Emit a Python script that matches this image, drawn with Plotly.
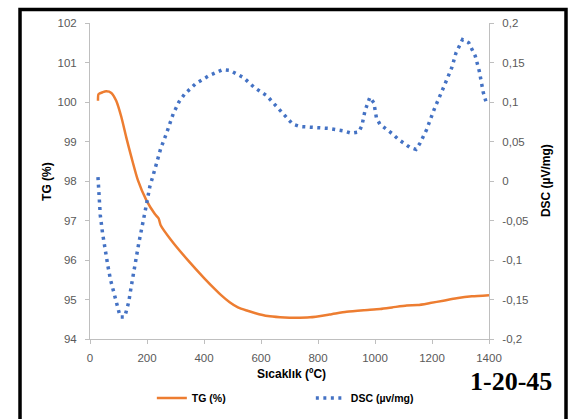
import plotly.graph_objects as go

# Thermogravimetric (TG) curve: temperature (°C) vs. mass (%)
tg_temp = [28, 30, 45, 57, 75, 92, 110, 127, 145, 168, 198, 227, 241, 248, 285,
           344, 402, 440, 460, 490, 519, 550, 578, 624, 667, 700, 772, 840, 900,
           960, 1018, 1060, 1111, 1150, 1193, 1240, 1286, 1340, 1400]
tg_mass = [100.03, 100.20, 100.25, 100.27, 100.23, 100.03, 99.62, 99.11, 98.61,
           98.02, 97.51, 97.17, 97.05, 96.88, 96.50, 95.99, 95.53, 95.25, 95.11,
           94.93, 94.80, 94.72, 94.66, 94.58, 94.55, 94.54, 94.55, 94.62, 94.69,
           94.73, 94.76, 94.80, 94.85, 94.86, 94.91, 94.97, 95.03, 95.08, 95.11]

# Differential scanning calorimetry (DSC) curve: temperature (°C) vs. µV/mg
dsc_temp = [28, 32, 36, 44, 54, 63, 72, 82, 91, 100, 106, 122, 130, 136, 144,
            152, 171, 192, 210, 227, 248, 268, 292, 312, 332, 370, 416, 465,
            491, 538, 578, 620, 655, 674, 692, 711, 737, 788, 840, 891, 917,
            943, 954, 965, 982, 996, 1005, 1017, 1039, 1060, 1081, 1102, 1123,
            1144, 1158, 1181, 1209, 1240, 1270, 1284, 1307, 1329, 1352, 1366,
            1380, 1389]
dsc_signal = [0.005, -0.020, -0.043, -0.066, -0.090, -0.108, -0.125, -0.140,
              -0.154, -0.166, -0.172, -0.172, -0.162, -0.153, -0.135, -0.117,
              -0.079, -0.041, -0.007, 0.014, 0.041, 0.060, 0.085, 0.100, 0.110,
              0.123, 0.133, 0.141, 0.140, 0.131, 0.118, 0.108, 0.094, 0.086,
              0.078, 0.072, 0.069, 0.068, 0.0665, 0.0634, 0.0605, 0.062, 0.070,
              0.089, 0.106, 0.099, 0.080, 0.072, 0.066, 0.060, 0.053, 0.048,
              0.0424, 0.040, 0.048, 0.065, 0.092, 0.118, 0.144, 0.162, 0.179,
              0.175, 0.158, 0.139, 0.112, 0.101]

# Axis ticks
x_ticks = [0, 200, 400, 600, 800, 1000, 1200, 1400]
tg_ticks = [94, 95, 96, 97, 98, 99, 100, 101, 102]
dsc_ticks = [-0.2, -0.15, -0.1, -0.05, 0, 0.05, 0.1, 0.15, 0.2]
dsc_tick_labels = ["-0,2", "-0,15", "-0,1", "-0,05", "0", "0,05", "0,1", "0,15", "0,2"]

ORANGE = "#ED7D31"
BLUE = "#4472C4"
AXIS_GREY = "#BFBFBF"
LABEL_GREY = "#595959"
TICK_FONT = dict(family="Liberation Sans", size=11.5, color=LABEL_GREY)
TITLE_FONT = dict(family="Liberation Sans", size=12, color="black", weight="bold")

fig = go.Figure()
fig.add_trace(go.Scatter(
    x=tg_temp, y=tg_mass, mode="lines", name="TG (%)",
    line=dict(color=ORANGE, width=2.5, shape="spline", smoothing=0.6),
    yaxis="y",
))
fig.add_trace(go.Scatter(
    x=dsc_temp, y=dsc_signal, mode="lines", name="DSC (µv/mg)",
    line=dict(color=BLUE, width=3.5, dash="3px,4.5px"), yaxis="y2",
))

common_axis = dict(
    showgrid=False, zeroline=False, showline=True, linecolor=AXIS_GREY,
    linewidth=1, ticks="outside", ticklen=4, tickcolor=AXIS_GREY,
    tickfont=TICK_FONT,
)

fig.update_layout(
    width=574, height=419,
    margin=dict(l=90, r=85, t=23, b=80, autoexpand=False),
    paper_bgcolor="white", plot_bgcolor="white",
    xaxis=dict(range=[0, 1400], tickvals=x_ticks, ticklabelstandoff=4,
               **common_axis),
    yaxis=dict(range=[94, 102], tickvals=tg_ticks, ticklabelstandoff=6,
               **common_axis),
    yaxis2=dict(range=[-0.2, 0.2], tickvals=dsc_ticks, ticktext=dsc_tick_labels,
                overlaying="y", side="right", ticklabelstandoff=6,
                **common_axis),
    showlegend=True,
    legend=dict(
        orientation="h", x=0.155, y=0.05, yref="container",
        xanchor="left", yanchor="middle",
        font=dict(family="Liberation Sans", size=10.5, color="black", weight="bold"),
        entrywidth=114, entrywidthmode="pixels", bgcolor="rgba(0,0,0,0)",
        itemclick=False,
    ),
    annotations=[
        dict(text="TG (%)", x=-0.108, y=0.5, xref="paper", yref="paper",
             textangle=-90, showarrow=False, font=TITLE_FONT,
             xanchor="center", yanchor="middle"),
        dict(text="DSC (µV/mg)", x=1.143, y=0.5, xref="paper", yref="paper",
             textangle=-90, showarrow=False, font=TITLE_FONT,
             xanchor="center", yanchor="middle"),
        dict(text="Sıcaklık (ºC)", x=0.506, y=-0.111, xref="paper", yref="paper",
             showarrow=False, font=TITLE_FONT, xanchor="center", yanchor="middle"),
        dict(text="1-20-45", x=1.055, y=-0.136, xref="paper", yref="paper",
             showarrow=False, xanchor="center", yanchor="middle",
             font=dict(family="Liberation Serif", size=26, color="black",
                       weight="bold")),
    ],
    shapes=[
        dict(type="rect", xref="paper", yref="paper",
             x0=-0.1754, x1=1.193, y0=-0.35, y1=1.0427,
             line=dict(color="black", width=3.5), fillcolor="rgba(0,0,0,0)"),
    ],
)

fig.write_html("out.html")
